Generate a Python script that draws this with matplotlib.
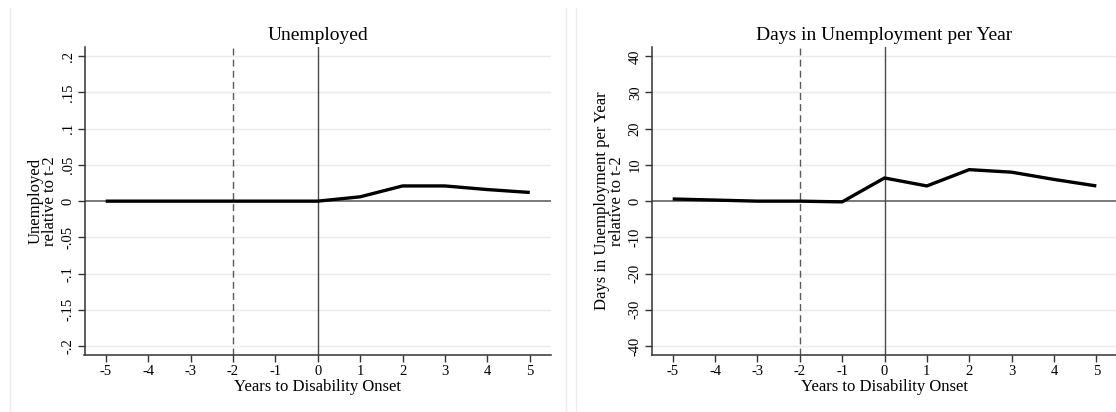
import matplotlib.pyplot as plt
from matplotlib.lines import Line2D

plt.rcParams['font.family'] = ['Liberation Serif', 'DejaVu Serif']

years = [-5, -4, -3, -2, -1, 0, 1, 2, 3, 4, 5]
unemployed = [0.0, 0.0, 0.0, 0.0, 0.0, 0.0, 0.006, 0.021, 0.021, 0.016, 0.012]
days_unemp = [0.6, 0.3, 0.0, 0.0, -0.2, 6.4, 4.2, 8.7, 8.0, 6.0, 4.2]

left_ticks = [-0.2, -0.15, -0.1, -0.05, 0, 0.05, 0.1, 0.15, 0.2]
left_labels = ['-.2', '-.15', '-.1', '-.05', '0', '.05', '.1', '.15', '.2']
right_ticks = [-40, -30, -20, -10, 0, 10, 20, 30, 40]
right_labels = ['-40', '-30', '-20', '-10', '0', '10', '20', '30', '40']

W, H = 1116, 412
fig = plt.figure(figsize=(W / 100, H / 100), dpi=100)

# faint panel borders
for xp in [10, 566, 576]:
    fig.add_artist(Line2D([xp / W, xp / W], [0, 1 - 8 / H], color='#ececec', lw=1))


def panel(x0, x1, y, ticks, labels, title, ylabel, lim):
    ax = fig.add_axes([x0 / W, 1 - 355 / H, (x1 - x0) / W, (355 - 47.3) / H])
    ax.set_xlim(-5.5, 5.5)
    ax.set_ylim(-lim, lim)
    for t in ticks:
        if t != 0:
            ax.axhline(t, color='#eaeaea', lw=1, zorder=0)
    ax.axhline(0, color='#6e6e6e', lw=1.3, zorder=1)
    ax.axvline(0, color='#4a4a4a', lw=1, zorder=1)
    ax.axvline(-2, color='#5a5a5a', lw=1, ls=(0, (5, 3)), zorder=1)
    ax.plot(years, y, color='black', lw=2.4, zorder=3, solid_capstyle='butt')
    ax.set_xticks(years)
    ax.set_xticklabels([str(v) for v in years], fontsize=10.5)
    ax.set_yticks(ticks)
    ax.set_yticklabels(labels, fontsize=10.5, rotation=90, va='center')
    for s in ['top', 'right']:
        ax.spines[s].set_visible(False)
    for s in ['left', 'bottom']:
        ax.spines[s].set_color('#333333')
        ax.spines[s].set_linewidth(1.1)
    ax.tick_params(length=5, width=1, color='#333333', pad=2)
    ax.set_title(title, fontsize=14, pad=5)
    ax.set_xlabel('Years to Disability Onset', fontsize=12, labelpad=1)
    ax.set_ylabel(ylabel, fontsize=12, labelpad=3, linespacing=0.85)
    return ax


panel(84.5, 551, unemployed, left_ticks, left_labels, 'Unemployed',
      'Unemployed\nrelative to t-2', 0.2124)
panel(651.5, 1117.5, days_unemp, right_ticks, right_labels,
      'Days in Unemployment per Year',
      'Days in Unemployment per Year\nrelative to t-2', 42.48)

fig.savefig('out.png', dpi=100)
